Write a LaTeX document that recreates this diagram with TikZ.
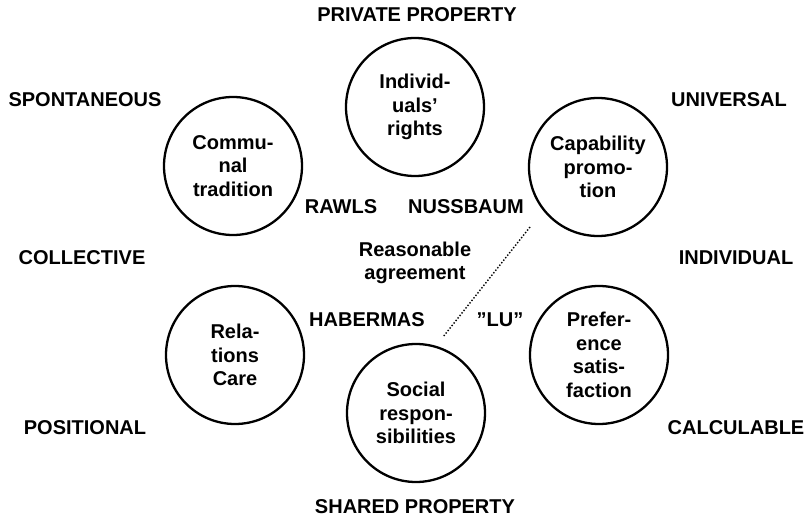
\documentclass[tikz,border=0pt]{standalone}
\usepackage{fontspec}
\setmainfont{Liberation Sans}

\begin{document}
\begin{tikzpicture}[x=1pt,y=-1pt,
    every node/.style={font=\fontsize{20}{23.5}\selectfont\bfseries},
    view/.style={draw,circle,line width=2.3pt,minimum size=138pt,inner sep=0pt,align=center}]
  \useasboundingbox (0,0) rectangle (805,519);
  %% The six circles
  \node[view] (1) at (415,107) {Individ-\\uals’\\rights};
  \node[view] (2) at (233,166) {Commu-\\nal\\tradition};
  \node[view] (3) at (598,167) {Capability\\promo-\\tion};
  \node[view] (4) at (235,355) {Rela-\\tions\\Care};
  \node[view] (5) at (599,355) {Prefer-\\ence\\satis-\\faction};
  \node[view] (6) at (416,413) {Social\\respon-\\sibilities};
  %% Outer poles
  \node (priv) at (417,15) {PRIVATE PROPERTY};
  \node (spon) at (85,100) {SPONTANEOUS};
  \node (univ) at (729,100) {UNIVERSAL};
  \node (coll) at (82,258) {COLLECTIVE};
  \node (indiv) at (736,258) {INDIVIDUAL};
  \node (posi) at (85,428) {POSITIONAL};
  \node (calc) at (736,428) {CALCULABLE};
  \node (shar) at (415,507) {SHARED PROPERTY};
  %% Names in the middle
  \node (rawls) at (341,207) {RAWLS};
  \node (nuss) at (466,207) {NUSSBAUM};
  \node[align=center] (agree) at (415,263) {Reasonable\\agreement};
  \node (haber) at (367,320) {HABERMAS};
  \node (lu) at (500,320) {”LU”};
  %% Dotted line
  \coordinate (d1) at (530,227);
  \coordinate (d2) at (443,337);
  \draw[line width=1.4pt,dash pattern=on 1.4pt off 1.8pt] (d1) -- (d2);
\end{tikzpicture}
\end{document}
